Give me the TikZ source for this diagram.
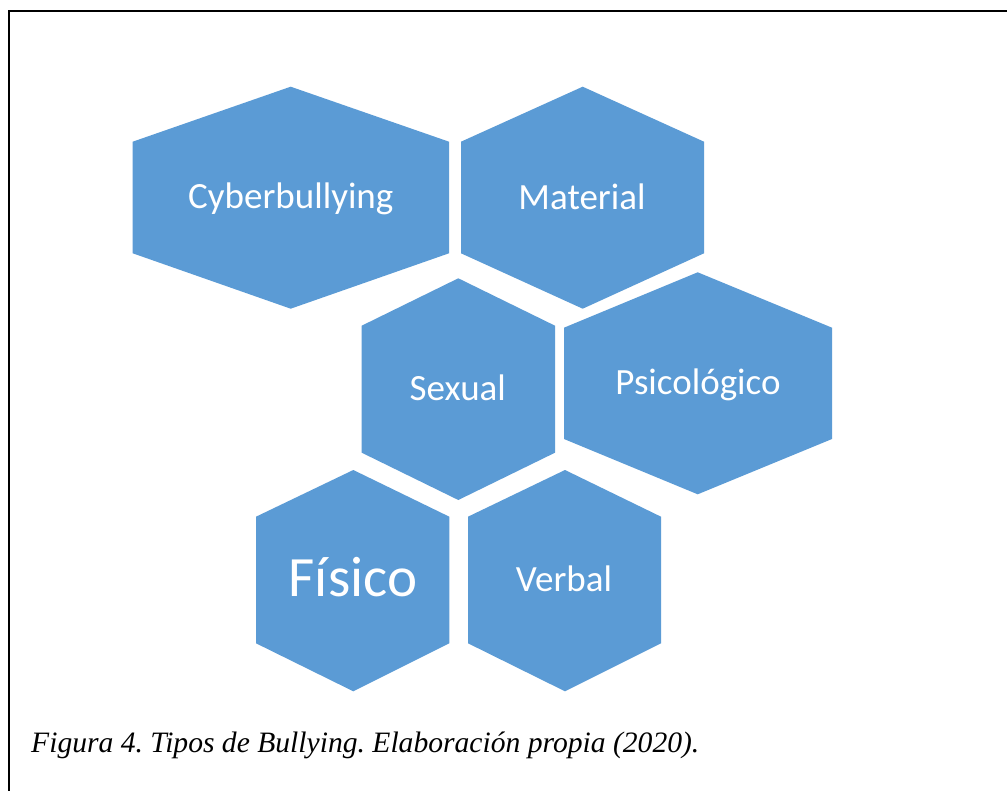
\documentclass[tikz,border=0pt]{standalone}
\usepackage{fontspec}
\setmainfont{Carlito}
\newfontfamily\capfont{Liberation Serif}
\definecolor{hexblue}{HTML}{5B9BD5}
\begin{document}
\frenchspacing
\begin{tikzpicture}[x=1pt,y=-1pt,
  hexfill/.style={fill=hexblue,draw=none},
  hexlabel/.style={text=white,anchor=base,inner sep=0pt,font=\fontsize{37}{40}\selectfont},
  caplabel/.style={anchor=base west,inner sep=0pt,font=\capfont\itshape\fontsize{29.6}{32}\selectfont}]
\useasboundingbox (0,0) rectangle (1007,791);
\fill[white] (0,0) rectangle (1007,791);
\draw[line width=2pt] (9,791) -- (9,11) -- (1007,11);
% hexagons
\fill[hexfill] (290.7,86.7) -- (449,141.7) -- (449,253.3) -- (290.7,308.7) -- (132.7,253.3) -- (132.7,141.7) -- cycle;
\fill[hexfill] (582.7,86.7) -- (704,141.7) -- (704,253.3) -- (582.7,308.7) -- (461,253.3) -- (461,141.7) -- cycle;
\fill[hexfill] (458.3,278.3) -- (555,325.7) -- (555,452.7) -- (458.3,500) -- (361.7,452.7) -- (361.7,325.7) -- cycle;
\fill[hexfill] (697.7,272.3) -- (832,327.7) -- (832,439) -- (697.7,494.3) -- (564,439) -- (564,327.7) -- cycle;
\fill[hexfill] (353.3,470) -- (449.3,516.7) -- (449.3,643.3) -- (353.3,691.3) -- (256,643.3) -- (256,516.7) -- cycle;
\fill[hexfill] (565,470) -- (661,516.7) -- (661,643.3) -- (565,691.3) -- (468,643.3) -- (468,516.7) -- cycle;
% labels
\node[hexlabel] (cyber) at (290.8,208.3) {Cyberbullying};
\node[hexlabel] (material) at (582,209.3) {Material};
\node[hexlabel] (sexual) at (457.8,401) {Sexual};
\node[hexlabel] (psico) at (698,395) {Psicológico};
\node[hexlabel,font=\fontsize{57}{60}\selectfont] (fisico) at (353,596.7) {Físico};
\node[hexlabel] (verbal) at (564,591.7) {Verbal};
\node[caplabel] (caption) at (31,752.5) {Figura 4. Tipos de Bullying. Elaboración propia (2020).};
\end{tikzpicture}
\end{document}
